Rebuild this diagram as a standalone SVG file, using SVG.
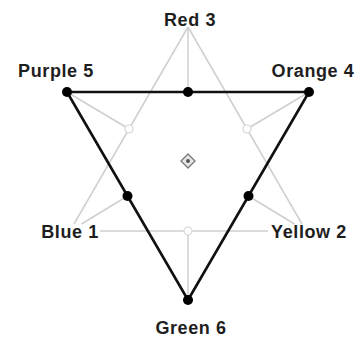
<svg xmlns="http://www.w3.org/2000/svg" width="362" height="339" viewBox="0 0 362 339">
<style>
.g{stroke:#cfcfcf;stroke-width:1.5;fill:none}
.k{stroke:#111;stroke-width:2.6;fill:none;stroke-linejoin:round}
.dot{fill:#000}
.hol{fill:#fff;stroke:#d4d4d4;stroke-width:1.2}
.lbl{font-family:"Liberation Sans",Arial,sans-serif;font-weight:bold;font-size:18px;fill:#1e1e1e;text-anchor:middle;letter-spacing:0.6px}
</style>
<rect width="362" height="339" fill="#fff"/>
<g id="connectors">
<line class="g" x1="188" y1="27" x2="74" y2="224"/>
<line class="g" x1="188" y1="27" x2="302" y2="224"/>
<line class="g" x1="100" y1="231" x2="268" y2="231"/>
<line class="g" x1="188" y1="27" x2="188" y2="92"/>
<line class="g" x1="67" y1="92" x2="129" y2="129"/>
<line class="g" x1="309" y1="92" x2="247" y2="129"/>
<line class="g" x1="81.5" y1="224" x2="127.5" y2="196"/>
<line class="g" x1="294.5" y1="224" x2="248.5" y2="196"/>
<line class="g" x1="188" y1="231" x2="188" y2="300"/>
<polygon class="k" points="67,92 309,92 188,300"/>
</g>
<g id="mid-top"><circle class="dot" cx="188" cy="92" r="5"/></g>
<g id="mid-left"><circle class="dot" cx="127.5" cy="196" r="5"/></g>
<g id="mid-right"><circle class="dot" cx="248.5" cy="196" r="5"/></g>
<g id="hol-left"><circle class="hol" cx="129" cy="129" r="4"/></g>
<g id="hol-right"><circle class="hol" cx="247" cy="129" r="4"/></g>
<g id="hol-bottom"><circle class="hol" cx="188" cy="231" r="4"/></g>
<g id="center">
<polygon points="188,154 195,161 188,168 181,161" fill="#e6e6e6" stroke="#777" stroke-width="1.3"/>
<circle cx="188" cy="161" r="2" fill="#555"/>
</g>
<g id="red3"><text class="lbl" x="190" y="26">Red 3</text></g>
<g id="purple5"><circle class="dot" cx="67" cy="92" r="5"/><text class="lbl" x="56" y="77">Purple 5</text></g>
<g id="orange4"><circle class="dot" cx="309" cy="92" r="5"/><text class="lbl" x="313" y="77">Orange 4</text></g>
<g id="blue1"><text class="lbl" x="70" y="238">Blue 1</text></g>
<g id="yellow2"><text class="lbl" x="309" y="238">Yellow 2</text></g>
<g id="green6"><circle class="dot" cx="188" cy="300" r="5"/><text class="lbl" x="191" y="334">Green 6</text></g>
</svg>
